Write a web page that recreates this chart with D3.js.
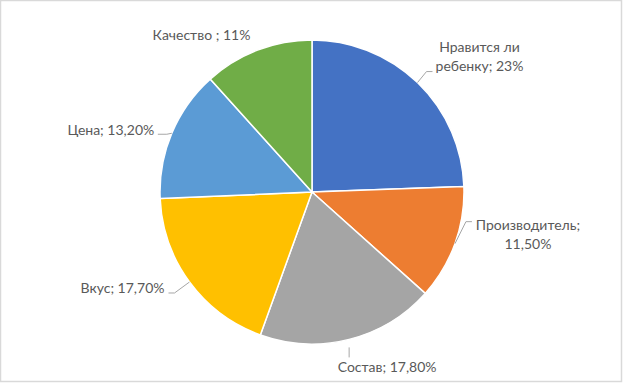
<!DOCTYPE html>
<html>
<head>
<meta charset="UTF-8">
<title></title>
<style>
  html, body { margin: 0; padding: 0; background: #fff; }
  svg { display: block; }
</style>
</head>
<body>
<div id="chart"></div>
<script src="https://d3js.org/d3.v7.min.js"></script>
<script>
// данные
var categories = ["Нравится ли ребенку", "Производитель", "Состав", "Вкус", "Цена", "Качество "];
var values = [23, 11.5, 17.8, 17.7, 13.2, 11];
var valueLabels = ["23%", "11,50%", "17,80%", "17,70%", "13,20%", "11%"];
var colors = ["#4472C4", "#ED7D31", "#A5A5A5", "#FFC000", "#5B9BD5", "#70AD47"];

// подписи: строки текста и сдвиг центра подписи от точки на краю сектора
var labelLines = [
  ["Нравится ли", "ребенку; 23%"],
  ["Производитель;", "11,50%"],
  ["Состав; 17,80%"],
  ["Вкус; 17,70%"],
  ["Цена; 13,20%"],
  ["Качество ; 11%"]
];
var labelShift = [[62, -26], [73, -9], [38, 28], [-67, 6], [-61, -3], [-56, -15]];
// выносные линии: излом и конец относительно точки на краю
var leaderPts = [
  [[9, -11], [15, -11]],
  [[11, -22], [17, -22]],
  [[0, 8], [0, 18]],
  [[-15, 11], [-21, 11]],
  [[-5, 1], [-14, 1]],
  null
];

var width = 624, height = 384;
var cx = 312, cy = 192, r = 152;

var svg = d3.select("#chart").append("svg")
  .attr("width", width)
  .attr("height", height);

// рамка
svg.append("rect")
  .attr("x", 0.5).attr("y", 0.5)
  .attr("width", width - 3).attr("height", height - 3)
  .attr("fill", "#fff")
  .attr("stroke", "#d9d9d9")
  .attr("stroke-width", 1.5);

var pie = d3.pie().sort(null).value(function(d) { return d; });
var arcs = pie(values);
var arc = d3.arc().innerRadius(0).outerRadius(r);

var g = svg.append("g").attr("transform", "translate(" + cx + "," + cy + ")");

g.selectAll("path.slice")
  .data(arcs)
  .enter().append("path")
  .attr("class", "slice")
  .attr("d", arc)
  .attr("fill", function(d, i) { return colors[i]; })
  .attr("stroke", "#fff")
  .attr("stroke-width", 1.5);

function edgePoint(d) {
  var a = (d.startAngle + d.endAngle) / 2;
  return [r * Math.sin(a), -r * Math.cos(a)];
}

// выносные линии
arcs.forEach(function(d, i) {
  if (!leaderPts[i]) return;
  var p = edgePoint(d);
  var off = i == 2 ? 8 : 0;
  var pts = [[p[0], p[1] + off]].concat(leaderPts[i].map(function(q) { return [p[0] + q[0], p[1] + q[1]]; }));
  g.append("path")
    .attr("d", d3.line()(pts))
    .attr("fill", "none")
    .attr("stroke", "#a6a6a6")
    .attr("stroke-width", 1);
});

// подписи
arcs.forEach(function(d, i) {
  var p = edgePoint(d);
  var lx = p[0] + labelShift[i][0], ly = p[1] + labelShift[i][1];
  var lines = labelLines[i];
  var lh = 19;
  var t = g.append("text")
    .attr("text-anchor", "middle")
    .attr("font-family", "Lato, 'Open Sans', sans-serif")
    .attr("font-size", "14px")
    .attr("fill", "#595959");
  lines.forEach(function(s, k) {
    t.append("tspan")
      .attr("x", lx)
      .attr("y", ly + (k - (lines.length - 1) / 2) * lh)
      .attr("dy", "0.35em")
      .text(s);
  });
});
</script>
</body>
</html>
